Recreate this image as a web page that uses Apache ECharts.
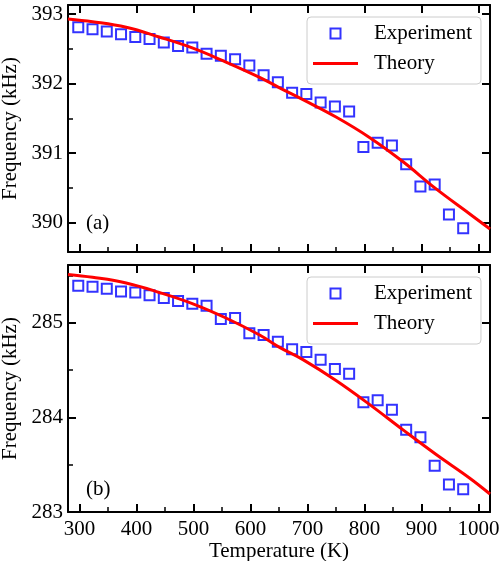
<!DOCTYPE html>
<html>
<head>
<meta charset="utf-8">
<script src="https://cdn.jsdelivr.net/npm/echarts@6/dist/echarts.min.js"></script>
<style>html,body{margin:0;padding:0;background:#fff}#c{width:500px;height:561px}</style>
</head>
<body>
<div id="c"></div>
<script>
const temps = [298, 323, 348, 373, 398, 423, 448, 473, 498, 523, 548, 573, 598, 623, 648, 673, 698, 723, 748, 773, 798, 823, 848, 873, 898, 923, 948, 973];
const expA = [392.81, 392.78, 392.75, 392.71, 392.67, 392.64, 392.59, 392.54, 392.52, 392.43, 392.40, 392.35, 392.26, 392.12, 392.02, 391.87, 391.85, 391.73, 391.67, 391.60, 391.09, 391.15, 391.11, 390.84, 390.52, 390.55, 390.12, 389.92];
const expB = [285.39, 285.38, 285.36, 285.33, 285.32, 285.29, 285.26, 285.23, 285.20, 285.18, 285.04, 285.05, 284.89, 284.87, 284.80, 284.72, 284.69, 284.61, 284.51, 284.46, 284.16, 284.18, 284.08, 283.87, 283.79, 283.49, 283.29, 283.24];
const theoryT = [280, 323, 382, 440, 499, 557, 616, 651, 692, 750, 808, 867, 925, 984, 1020];
const theoryA = [392.93, 392.89, 392.81, 392.67, 392.51, 392.31, 392.09, 391.94, 391.77, 391.52, 391.23, 390.88, 390.49, 390.13, 389.91];
const theoryB = [285.51, 285.48, 285.42, 285.32, 285.20, 285.05, 284.87, 284.74, 284.61, 284.39, 284.14, 283.87, 283.61, 283.36, 283.19];
const seriesNames = ['Experiment', 'Theory'];
const panelLabels = ['(a)', '(b)'];
const xName = 'Temperature (K)';
const yName = 'Frequency (kHz)';

const FONT = 'Liberation Serif';
const FS = 21;
const pair = (xs, ys) => xs.map((x, i) => [x, ys[i]]);

const grids = [
  {left: 68, top: 5, width: 422, height: 247, outerBoundsMode: 'none', containLabel: false},
  {left: 68, top: 265, width: 422, height: 247, outerBoundsMode: 'none', containLabel: false}
];
const yRanges = [[389.58, 393.13], [283, 285.61]];
const yIntervals = [undefined, 1];

const xAxes = [], yAxes = [];
[0, 1].forEach(g => {
  xAxes.push({
    type: 'value', gridIndex: g, position: 'bottom', min: 280, max: 1020, splitNumber: 7,
    axisLine: {lineStyle: {color: '#000', width: 2}},
    axisTick: {inside: true, length: 8, lineStyle: {color: '#000', width: 2}},
    minorTick: {show: true, splitNumber: 2, length: 5, lineStyle: {color: '#000', width: 1.5}},
    splitLine: {show: false},
    axisLabel: {show: g === 1, showMinLabel: false, showMaxLabel: false, margin: 7,
      formatter: v => String(v), fontFamily: FONT, fontSize: FS, color: '#000'},
    name: g === 1 ? xName : '', nameLocation: 'middle', nameGap: 29,
    nameTextStyle: {fontFamily: FONT, fontSize: FS, color: '#000'}
  });
  xAxes.push({
    type: 'value', gridIndex: g, position: 'top', min: 280, max: 1020, splitNumber: 7,
    axisLine: {lineStyle: {color: '#000', width: 2}},
    axisTick: {inside: true, length: 8, lineStyle: {color: '#000', width: 2}},
    splitLine: {show: false}, axisLabel: {show: false}
  });
  yAxes.push({
    type: 'value', gridIndex: g, position: 'left', min: yRanges[g][0], max: yRanges[g][1],
    splitNumber: 4, interval: yIntervals[g],
    axisLine: {lineStyle: {color: '#000', width: 2}},
    axisTick: {inside: true, length: 8, lineStyle: {color: '#000', width: 2}},
    minorTick: {show: true, splitNumber: 2, length: 5, lineStyle: {color: '#000', width: 1.5}},
    splitLine: {show: false},
    axisLabel: {showMinLabel: g === 1, showMaxLabel: false, margin: 5,
      formatter: v => String(v), fontFamily: FONT, fontSize: FS, color: '#000'},
    name: yName, nameLocation: 'middle', nameGap: 43,
    nameTextStyle: {fontFamily: FONT, fontSize: FS, color: '#000'}
  });
  yAxes.push({
    type: 'value', gridIndex: g, position: 'right', min: yRanges[g][0], max: yRanges[g][1],
    splitNumber: 4, interval: yIntervals[g],
    axisLine: {lineStyle: {color: '#000', width: 2}},
    axisTick: {inside: true, length: 8, lineStyle: {color: '#000', width: 2}},
    splitLine: {show: false}, axisLabel: {show: false}
  });
});

const expData = [expA, expB];
const theoData = [theoryA, theoryB];
const series = [];
[0, 1].forEach(g => {
  series.push({
    name: seriesNames[0], type: 'scatter', xAxisIndex: g * 2, yAxisIndex: g * 2,
    data: pair(temps, expData[g]), symbol: 'rect', symbolSize: 10,
    itemStyle: {color: 'transparent', borderColor: '#0000ff', borderWidth: 2}, z: 2
  });
  series.push({
    name: seriesNames[1], type: 'line', xAxisIndex: g * 2, yAxisIndex: g * 2,
    data: pair(theoryT, theoData[g]), smooth: 0.4, showSymbol: false, symbol: 'none',
    lineStyle: {color: '#ff0000', width: 3}, itemStyle: {color: '#ff0000'}, z: 3, clip: true
  });
});

const legends = [17, 277].map(t => ({
  left: 307, top: t, orient: 'vertical', itemWidth: 45, itemHeight: 10, itemGap: 9,
  padding: [6, 9, 10, 6], borderColor: '#cccccc', borderWidth: 1, borderRadius: 4,
  backgroundColor: 'rgba(255,255,255,0.8)', symbolKeepAspect: true,
  textStyle: {fontFamily: FONT, fontSize: FS, color: '#000', lineHeight: 20, padding: [0, 0, 0, 11]},
  data: [
    {name: seriesNames[0], icon: 'path://M0,0H10V10H0Z',
      itemStyle: {color: 'transparent', borderColor: '#0000ff', borderWidth: 2}},
    {name: seriesNames[1], icon: 'path://M0,0H45V3H0Z',
      itemStyle: {color: '#ff0000', borderWidth: 0}}
  ]
}));

const chart = echarts.init(document.getElementById('c'), null, {renderer: 'canvas'});
chart.setOption({
  animation: false,
  backgroundColor: '#fff',
  grid: grids,
  xAxis: xAxes,
  yAxis: yAxes,
  legend: legends,
  series: series,
  graphic: [
    {type: 'text', x: 86, y: 223, style: {text: panelLabels[0], font: FS + 'px "Liberation Serif"', fill: '#000', verticalAlign: 'middle'}},
    {type: 'text', x: 86, y: 489, style: {text: panelLabels[1], font: FS + 'px "Liberation Serif"', fill: '#000', verticalAlign: 'middle'}}
  ]
});
</script>
</body>
</html>
